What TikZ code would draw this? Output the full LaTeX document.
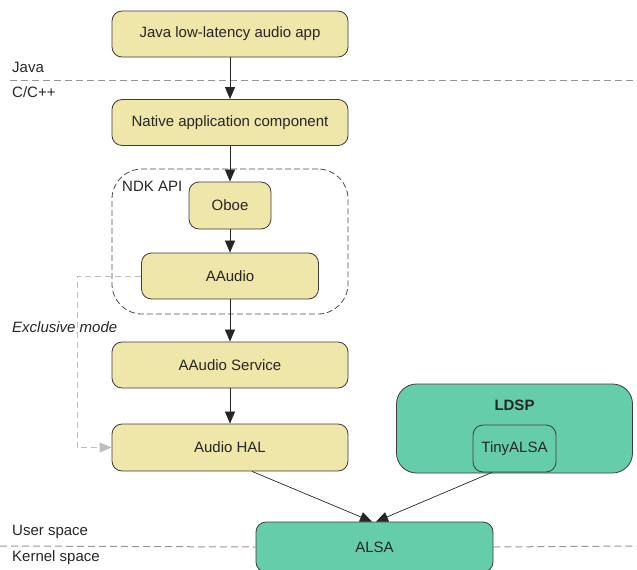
\documentclass[tikz,border=0pt]{standalone}
\usepackage{fontspec}
\setmainfont{Liberation Sans}
\usetikzlibrary{arrows.meta}
\definecolor{ybox}{RGB}{239,230,170}
\definecolor{gbox}{RGB}{102,205,170}
\definecolor{edge}{RGB}{60,60,60}
\definecolor{grayline}{RGB}{150,150,150}
\definecolor{lightgray}{RGB}{190,190,190}
\tikzset{
  ybx/.style={draw=edge, line width=0.8pt, fill=ybox, rounded corners=10pt, minimum height=46pt, inner sep=0pt, font=\fontsize{15}{17}\selectfont, text=black!85},
  gbx/.style={draw=edge, line width=0.8pt, fill=gbox, rounded corners=10pt, inner sep=0pt, font=\fontsize{15}{17}\selectfont, text=black!85},
  arr/.style={draw=black!85, line width=0.7pt, -{Triangle[length=12pt,width=10pt]}},
  sidelbl/.style={anchor=west, inner sep=0pt, font=\fontsize{15}{17}\selectfont, text=black!85},
  sep/.style={draw=grayline, dashed, dash pattern=on 7pt off 4pt, line width=1pt}
}
\begin{document}
\begin{tikzpicture}[x=1pt,y=-1pt]
\useasboundingbox (0,0) rectangle (637,570);
% separator lines
\draw[sep] (10,80) -- (637,80);
\node[sidelbl] (ljava) at (12,67) {Java};
\node[sidelbl] (lcpp) at (12,92) {C/C++};
% NDK dashed group
\node[draw=black!70, line width=0.8pt, dashed, dash pattern=on 6pt off 3pt, rounded corners=30pt, minimum width=236pt, minimum height=145pt, inner sep=0pt] (ndk) at (230,241.5) {};
\node[anchor=west, inner sep=0pt, font=\fontsize{15}{17}\selectfont, text=black!85] (ndklbl) at (122,186) {NDK API};
% boxes
\node[ybx, minimum width=236pt] (java) at (230,34) {Java low-latency audio app};
\node[ybx, minimum width=236pt] (native) at (230,122.5) {Native application component};
\node[ybx, minimum width=82pt, minimum height=47pt] (oboe) at (230,205.5) {Oboe};
\node[ybx, minimum width=177pt] (aaudio) at (230,276) {AAudio};
\node[ybx, minimum width=236pt] (service) at (230,365) {AAudio Service};
\node[ybx, minimum width=236pt, minimum height=47pt] (hal) at (230,447.5) {Audio HAL};
% LDSP
\node[gbx, rounded corners=20pt, minimum width=236pt, minimum height=89pt] (ldsp) at (514.5,428.5) {};
\node[inner sep=0pt, font=\fontsize{15}{17}\selectfont\bfseries, text=black!85] (ldsplbl) at (514.5,405) {LDSP};
\node[gbx, minimum width=83pt, minimum height=47pt] (tiny) at (514.5,448.5) {TinyALSA};
% kernel separator
\node[gbx, minimum width=237pt, minimum height=50pt] (alsa) at (374.5,547) {ALSA};
\draw[sep] (0,546) -- (alsa.west);
\draw[sep] (alsa.east) -- (637,546);
\node[sidelbl] (luser) at (12,532) {User space};
\node[sidelbl] (lkernel) at (12,558) {Kernel space};
\node[sidelbl, font=\fontsize{15}{17}\selectfont\itshape] (lexcl) at (12,327) {Exclusive mode};
% arrows
\draw[arr] (java) -- (native);
\draw[arr] (native) -- (oboe);
\draw[arr] (oboe) -- (aaudio);
\draw[arr] (aaudio) -- (service);
\draw[arr] (service) -- (hal);
\draw[arr] (hal.south -| 252,0) -- (alsa.north -| 372,0);
\draw[arr] (tiny.south -| 492,0) -- (alsa.north -| 376,0);
\coordinate (c1) at (77,276);
\coordinate (c2) at (77,447.5);
\draw[draw=lightgray, line width=0.8pt, dashed, dash pattern=on 6pt off 4pt, -{Triangle[length=12pt,width=10pt,fill=lightgray]}] (aaudio.west) -- (c1) -- (c2) -- (hal.west);
\end{tikzpicture}
\end{document}
